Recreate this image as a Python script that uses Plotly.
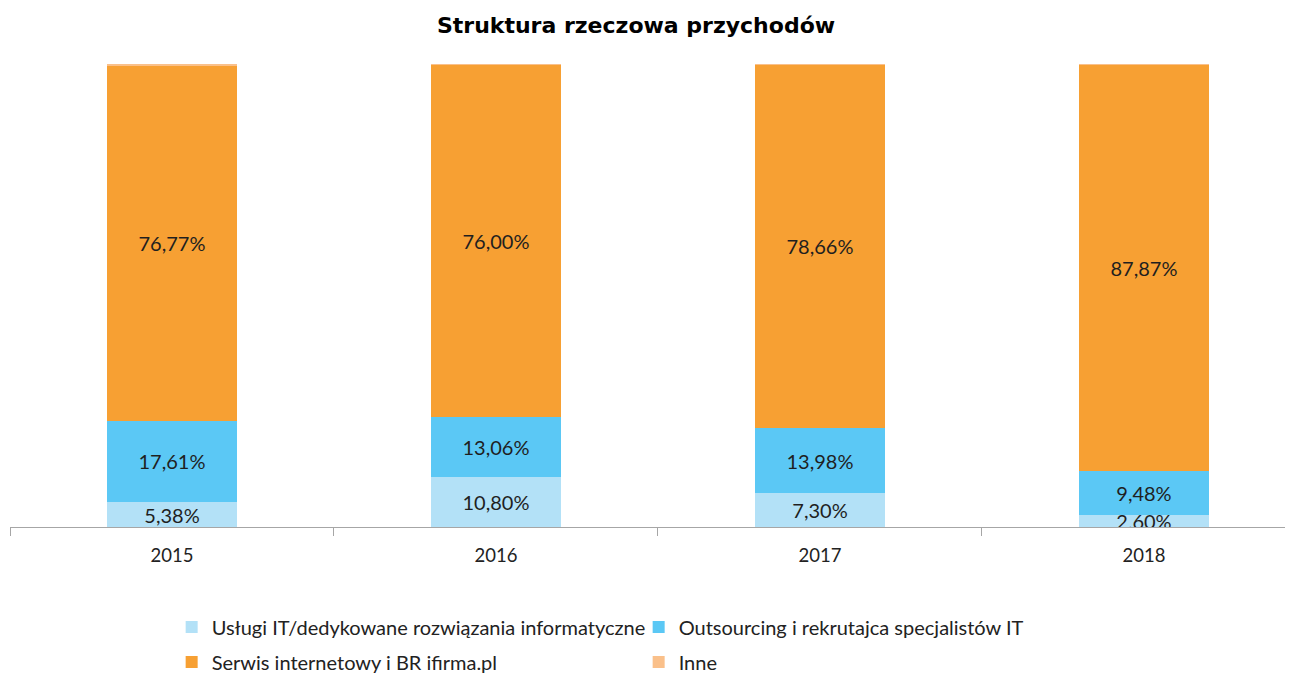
import plotly.graph_objects as go

years = ["2015", "2016", "2017", "2018"]
uslugi = [5.38, 10.80, 7.30, 2.60]
outsourcing = [17.61, 13.06, 13.98, 9.48]
serwis = [76.77, 76.00, 78.66, 87.87]
inne = [0.24, 0.14, 0.06, 0.05]

series = [
    ("Usługi IT/dedykowane rozwiązania informatyczne", uslugi, "#B3E1F7", True, "legend"),
    ("Outsourcing i rekrutajca specjalistów IT", outsourcing, "#5BC8F5", True, "legend"),
    ("Serwis internetowy i BR ifirma.pl", serwis, "#F7A033", True, "legend2"),
    ("Inne", inne, "#FAC08A", False, "legend2"),
]

fig = go.Figure()
for name, vals, color, show, leg in series:
    fig.add_trace(go.Bar(
        x=years, y=vals, name=name,
        marker=dict(color=color, line=dict(width=0)),
        width=0.4,
        texttemplate="%{y:.2f}%" if show else None,
        textposition="inside" if show else "none",
        insidetextanchor="middle",
        constraintext="none",
        textfont=dict(family="Lato", size=20, color="#1f1f1f"),
        hoverinfo="skip",
        legend=leg,
    ))

W, H = 1285, 667
legfont = dict(family="Lato", size=20, color="#222")
fig.update_layout(
    barmode="stack",
    width=W, height=H,
    separators=", ",
    paper_bgcolor="white", plot_bgcolor="white",
    margin=dict(l=2, r=0, t=56, b=148, autoexpand=False),
    title=dict(text="<b>Struktura rzeczowa przychodów</b>", x=(636 - 8) / W, xref="container",
               xanchor="center", y=1 - 17 / H, yanchor="middle",
               font=dict(family="DejaVu Sans", size=22, color="black")),
    xaxis=dict(type="category", range=[-0.5, 3.46], showline=True, linecolor="#A6A6A6",
               linewidth=1, ticks="outside", tickson="boundaries", ticklen=8,
               tickcolor="#A6A6A6", showgrid=False, ticklabelstandoff=12,
               tickfont=dict(family="Lato", size=18.5, color="#222")),
    yaxis=dict(range=[0, 100], visible=False, showgrid=False),
    showlegend=True,
    legend=dict(orientation="h", x=0.126, xanchor="left", y=-0.216, yanchor="middle",
                entrywidth=422, entrywidthmode="pixels", traceorder="normal",
                font=legfont, itemwidth=30),
    legend2=dict(orientation="h", x=0.126, xanchor="left", y=-0.2916, yanchor="middle",
                 entrywidth=422, entrywidthmode="pixels", traceorder="normal",
                 font=legfont, itemwidth=30),
    bargap=0.6,
)

fig.write_html("out.html")
